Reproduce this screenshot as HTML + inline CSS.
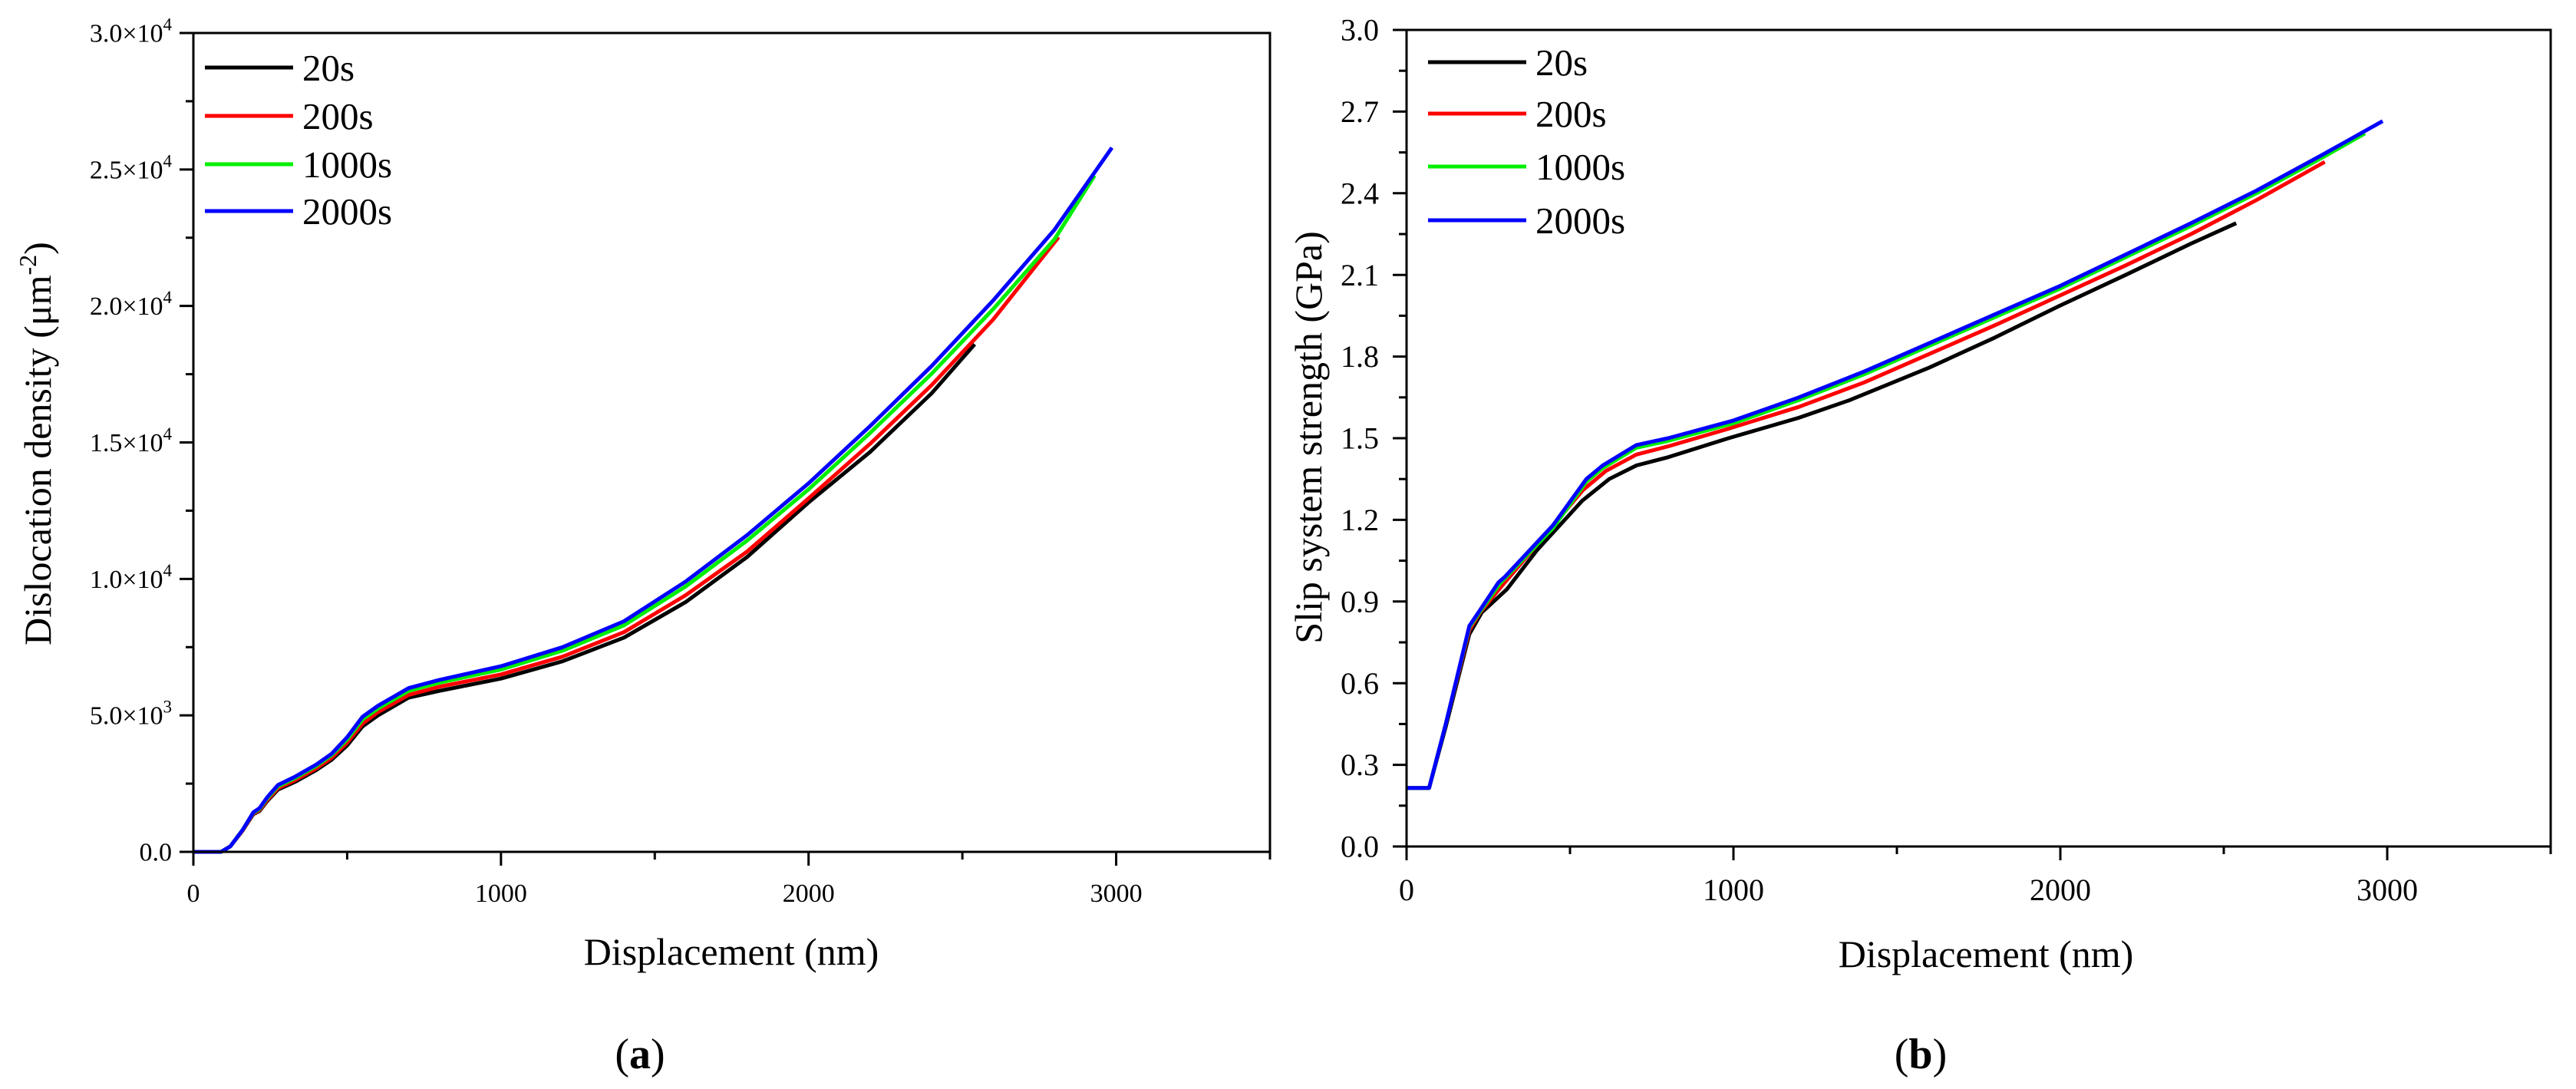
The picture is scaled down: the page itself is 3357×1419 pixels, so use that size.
<!DOCTYPE html>
<html><head><meta charset="utf-8">
<style>
html,body{margin:0;padding:0;background:#fff;}
svg{display:block;font-family:"Liberation Serif",serif;}
</style></head>
<body>
<svg id="fig" width="3357" height="1419" viewBox="0 0 3357 1419" xmlns="http://www.w3.org/2000/svg">
  <g id="pa"></g>
  <g id="pb"></g>
</svg>
<script>
// ---- Panel (a) data: dislocation density (um^-2) vs displacement (nm)
const seriesNames = ["20s","200s","1000s","2000s"];
const seriesColors = ["#000000","#ff0000","#00ee00","#0000ff"];
const aX20 = [0,90,120,160,195,215,240,275,330,400,450,500,550,600,700,800,1000,1200,1400,1600,1800,2000,2200,2400,2540];
const aY20 = [0,0,200,780,1380,1500,1860,2280,2560,3000,3380,3900,4600,5000,5650,5900,6350,6980,7850,9150,10800,12800,14650,16800,18600];
const aX200 = [0,90,120,160,195,215,240,275,330,400,450,500,550,600,700,800,1000,1200,1400,1600,1800,2000,2200,2400,2600,2813];
const aY200 = [0,0,200,780,1400,1530,1900,2330,2620,3060,3450,4000,4700,5120,5750,6050,6500,7150,8050,9400,11000,12950,14950,17100,19500,22520];
const aX1000 = [0,90,120,160,195,215,240,275,330,400,450,500,550,600,700,800,1000,1200,1400,1600,1800,2000,2200,2400,2600,2800,2930];
const aY1000 = [0,0,200,800,1430,1570,1960,2400,2700,3150,3550,4120,4850,5250,5900,6200,6680,7370,8300,9720,11400,13280,15350,17520,19880,22450,24780];
const aX2000 = [0,90,120,160,195,215,240,275,330,400,450,500,550,600,700,800,1000,1200,1400,1600,1800,2000,2200,2400,2600,2800,2986];
const aY2000 = [0,0,200,800,1450,1600,2000,2450,2750,3200,3600,4200,4950,5350,6000,6300,6800,7500,8450,9900,11600,13500,15600,17800,20200,22800,25800];
const aYTickMant = ["0.0","5.0","1.0","1.5","2.0","2.5","3.0"];
const aYTickExp = ["","3","4","4","4","4","4"];
const aYTicks = [0,5000,10000,15000,20000,25000,30000];
const xTicks = [0,1000,2000,3000];

// ---- Panel (b) data: slip system strength (GPa)
const bX20 = [0,69,120,192,230,307,400,537,620,703,800,985,1200,1356,1600,1800,1995,2200,2400,2538];
const bY20 = [0.215,0.215,0.44,0.78,0.86,0.945,1.09,1.27,1.35,1.40,1.43,1.50,1.575,1.64,1.76,1.87,1.985,2.10,2.215,2.29];
const bX200 = [0,69,120,192,225,290,400,540,610,703,800,985,1200,1400,1600,1800,2000,2200,2400,2600,2809];
const bY200 = [0.215,0.215,0.45,0.795,0.86,0.955,1.11,1.31,1.38,1.44,1.47,1.535,1.615,1.705,1.81,1.915,2.025,2.135,2.25,2.375,2.515];
const bX1000 = [0,69,120,192,220,285,448,550,600,703,800,1000,1200,1400,1600,1800,2000,2200,2400,2600,2800,2932];
const bY1000 = [0.215,0.215,0.45,0.805,0.855,0.965,1.17,1.34,1.39,1.465,1.49,1.555,1.64,1.735,1.84,1.945,2.05,2.165,2.28,2.40,2.53,2.62];
const bX2000 = [0,69,120,192,220,281,300,448,550,600,703,800,1000,1200,1400,1600,1800,2000,2200,2400,2600,2800,2986];
const bY2000 = [0.215,0.215,0.45,0.81,0.86,0.97,0.99,1.18,1.35,1.40,1.475,1.50,1.565,1.65,1.745,1.85,1.955,2.06,2.175,2.29,2.41,2.54,2.665];
const bYTicks = [0,0.3,0.6,0.9,1.2,1.5,1.8,2.1,2.4,2.7,3.0];
const bYTickLabels = ["0.0","0.3","0.6","0.9","1.2","1.5","1.8","2.1","2.4","2.7","3.0"];

const NS = "http://www.w3.org/2000/svg";
function mk(parent, tag, attrs){const e=document.createElementNS(NS,tag);for(const k in attrs)e.setAttribute(k,attrs[k]);parent.appendChild(e);return e;}

function drawPanel(g, P){
  const sx = v => P.x0 + (v - 0) / 3500 * (P.x1 - P.x0);
  const sy = v => P.y0 - v / P.ymax * (P.y0 - P.y1);
  P.series.forEach((s,i)=>{
    const d = s.x.map((v,j)=>(j?"L":"M")+sx(v).toFixed(1)+","+sy(s.y[j]).toFixed(1)).join(" ");
    const p = mk(g,"path",{d:d,fill:"none",stroke:seriesColors[i],"stroke-width":5,"stroke-linejoin":"round"});
    
    
  });
  const fr = mk(g,"rect",{x:P.x0,y:P.y1,width:P.x1-P.x0,height:P.y0-P.y1,fill:"none",stroke:"#000","stroke-width":3});
  
  
  for(let v=0; v<=3500; v+=500){
    const major = v%1000===0;
    const t = mk(g,"line",{x1:sx(v),x2:sx(v),y1:P.y0,y2:P.y0+(major?18:10),stroke:"#000","stroke-width":3});
    
    
  }
  xTicks.forEach(v=>{
    const t = mk(g,"text",{x:sx(v),y:P.y0+P.xlabDy,"font-size":P.tickFs,"text-anchor":"middle"});
    t.textContent = v;
    
    
  });
  const n = P.yTicks.length;
  for(let i=0;i<n;i++){
    const v = P.yTicks[i];
    const t = mk(g,"line",{x1:P.x0-18,x2:P.x0,y1:sy(v),y2:sy(v),stroke:"#000","stroke-width":3});
    
    
    if(i<n-1){
      const mv = (v+P.yTicks[i+1])/2;
      const m = mk(g,"line",{x1:P.x0-10,x2:P.x0,y1:sy(mv),y2:sy(mv),stroke:"#000","stroke-width":3});
      
      
    }
    const lab = mk(g,"text",{x:P.x0-P.ylabGap,y:sy(v)+P.tickFs*0.34,"font-size":P.tickFs,"text-anchor":"end"});
    
    
    P.yLabel(lab,i);
  }
  P.series.forEach((s,i)=>{
    const y = P.legY[i];
    const l = mk(g,"line",{x1:P.legX0,x2:P.legX1,y1:y,y2:y,stroke:seriesColors[i],"stroke-width":5});
    
    
    const t = mk(g,"text",{x:P.legX1+12,y:y+17,"font-size":49});
    t.textContent = seriesNames[i];
    
    
  });
  const xt = mk(g,"text",{x:P.xtX,y:P.xtY,"font-size":50,"text-anchor":"middle"});
  xt.textContent = "Displacement (nm)";
  
  
  const yt = mk(g,"text",{x:0,y:0,"font-size":50,"text-anchor":"middle",transform:`translate(${P.ytX},${P.ytY}) rotate(-90)`});
  
  
  P.yTitle(yt);
  const cap = mk(g,"text",{x:P.capX,y:1392,"font-size":56,"text-anchor":"middle"});
  cap.innerHTML = '(<tspan font-weight="bold">'+P.cap+'</tspan>)';
  
  
}

drawPanel(document.getElementById("pa"),{
  x0:252,x1:1655,y0:1110,y1:43,ymax:30000,tickFs:34,xlabDy:65,ylabGap:28,
  yTicks:aYTicks,
  yLabel:(el,i)=>{ if(aYTickExp[i]===""){el.textContent=aYTickMant[i];} else {el.innerHTML=aYTickMant[i]+'×10<tspan font-size="23" dy="-15">'+aYTickExp[i]+'</tspan>';} },
  series:[{x:aX20,y:aY20},{x:aX200,y:aY200},{x:aX1000,y:aY1000},{x:aX2000,y:aY2000}],
  legX0:267,legX1:382,legY:[88,151,214,275],
  xtX:953,xtY:1257,ytX:66,ytY:578,cap:"a",capX:834,
  yTitle:(el)=>{el.innerHTML='Dislocation density (μm<tspan font-size="32" dy="-19">-2</tspan><tspan dy="19">)</tspan>';}
});
drawPanel(document.getElementById("pb"),{
  x0:1833,x1:3324,y0:1103,y1:39,ymax:3.0,tickFs:40,xlabDy:70,ylabGap:36,
  yTicks:bYTicks,
  yLabel:(el,i)=>{el.textContent=bYTickLabels[i];},
  series:[{x:bX20,y:bY20},{x:bX200,y:bY200},{x:bX1000,y:bY1000},{x:bX2000,y:bY2000}],
  legX0:1861,legX1:1989,legY:[81,148,217,287],
  xtX:2588,xtY:1260,ytX:1722,ytY:570,cap:"b",capX:2503,
  yTitle:(el)=>{el.textContent='Slip system strength (GPa)';}
});
</script>
</body></html>
